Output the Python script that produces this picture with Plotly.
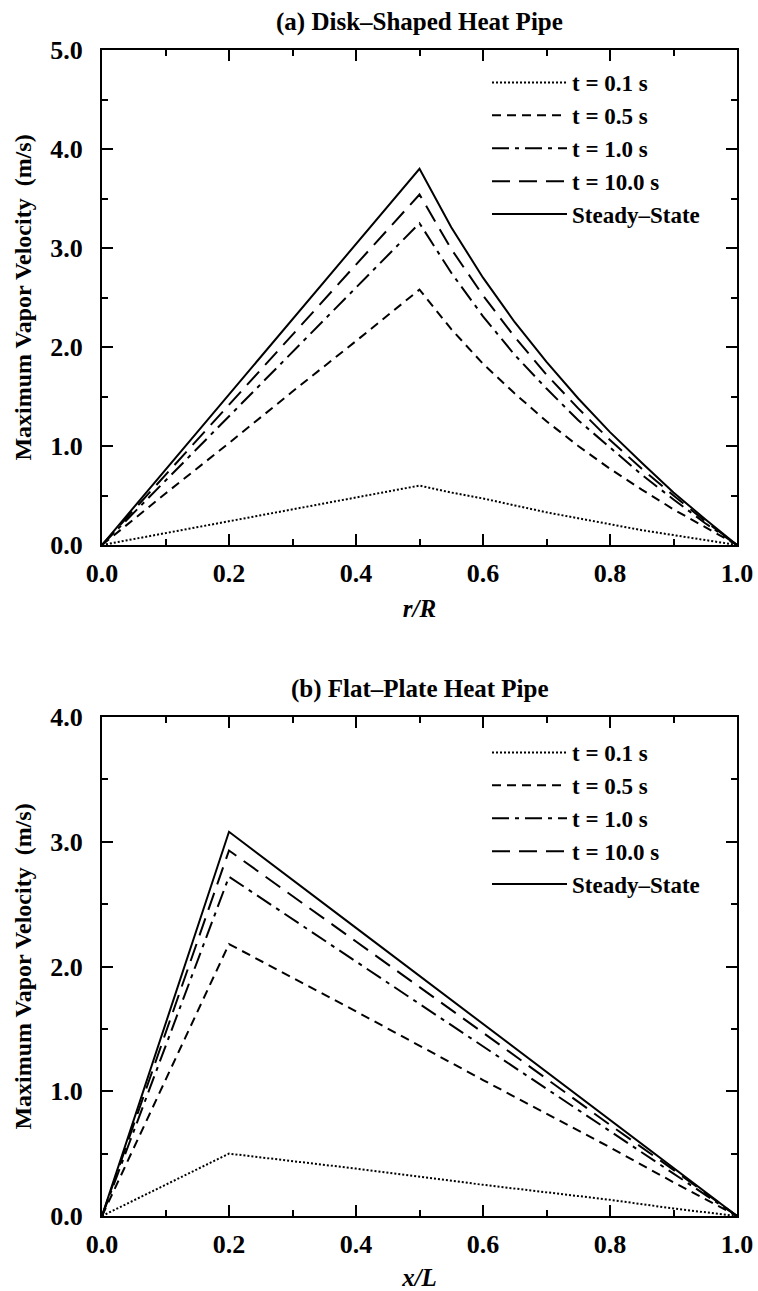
import plotly.graph_objects as go

# ---------------- data ----------------
series_names = ["t = 0.1 s", "t = 0.5 s", "t = 1.0 s", "t = 10.0 s", "Steady\u2013State"]

# (a) Disk-shaped heat pipe, x = r/R
r_R = [0.0, 0.1, 0.2, 0.3, 0.4, 0.5, 0.55, 0.6, 0.65, 0.7, 0.75, 0.8, 0.85, 0.9, 0.95, 1.0]
disk_t01 = [0.0, 0.12, 0.24, 0.36, 0.48, 0.60, 0.53, 0.47, 0.40, 0.33, 0.27, 0.21, 0.15, 0.10, 0.05, 0.0]
disk_t05 = [0.0, 0.52, 1.03, 1.55, 2.06, 2.58, 2.18, 1.83, 1.53, 1.25, 1.00, 0.77, 0.56, 0.36, 0.18, 0.0]
disk_t1 = [0.0, 0.65, 1.30, 1.95, 2.60, 3.25, 2.75, 2.31, 1.92, 1.58, 1.26, 0.98, 0.71, 0.46, 0.22, 0.0]
disk_t10 = [0.0, 0.71, 1.42, 2.12, 2.83, 3.54, 2.99, 2.52, 2.10, 1.72, 1.38, 1.06, 0.77, 0.50, 0.24, 0.0]
disk_ss = [0.0, 0.76, 1.52, 2.28, 3.04, 3.80, 3.21, 2.70, 2.25, 1.85, 1.48, 1.14, 0.83, 0.53, 0.26, 0.0]

# (b) Flat-plate heat pipe, x = x/L
x_L = [0.0, 0.1, 0.2, 0.4, 0.6, 0.8, 0.9, 1.0]
flat_t01 = [0.0, 0.25, 0.50, 0.38, 0.25, 0.13, 0.06, 0.0]
flat_t05 = [0.0, 1.09, 2.18, 1.64, 1.09, 0.55, 0.27, 0.0]
flat_t1 = [0.0, 1.36, 2.72, 2.04, 1.36, 0.68, 0.34, 0.0]
flat_t10 = [0.0, 1.47, 2.93, 2.20, 1.47, 0.73, 0.37, 0.0]
flat_ss = [0.0, 1.54, 3.08, 2.31, 1.54, 0.77, 0.39, 0.0]

x_ticks = [0.0, 0.2, 0.4, 0.6, 0.8, 1.0]
x_ticklabels = ["0.0", "0.2", "0.4", "0.6", "0.8", "1.0"]
ya_ticks = [0, 1, 2, 3, 4, 5]
ya_ticklabels = ["0.0", "1.0", "2.0", "3.0", "4.0", "5.0"]
yb_ticks = [0, 1, 2, 3, 4]
yb_ticklabels = ["0.0", "1.0", "2.0", "3.0", "4.0"]

# ---------------- style ----------------
FONT = "Liberation Serif"
W, H = 758, 1291
ML, MR, MT, MB = 102, 21, 50, 75
PH = H - MT - MB
PW = W - ML - MR
dashes = ["2px,2px", "9px,6px", "17px,6px,4px,6px", "18px,9px", "solid"]


def py(p):
    """pixel y (from top of figure) -> paper y"""
    return (H - MB - p) / PH


def px(p):
    """pixel x (from left of figure) -> paper x"""
    return (p - ML) / PW


fig = go.Figure()

disk = [disk_t01, disk_t05, disk_t1, disk_t10, disk_ss]
flat = [flat_t01, flat_t05, flat_t1, flat_t10, flat_ss]
for name, ys, d in zip(series_names, disk, dashes):
    fig.add_trace(go.Scatter(x=r_R, y=ys, mode="lines", name=name,
                             line=dict(color="black", width=2, dash=d),
                             xaxis="x", yaxis="y", legend="legend"))
for name, ys, d in zip(series_names, flat, dashes):
    fig.add_trace(go.Scatter(x=x_L, y=ys, mode="lines", name=name,
                             line=dict(color="black", width=2, dash=d),
                             xaxis="x2", yaxis="y2", legend="legend2"))

tickfont = dict(family=FONT, size=26, color="black", weight="bold")
axis_common = dict(
    showline=True, linecolor="black", linewidth=2, mirror="ticks",
    ticks="inside", ticklen=11, tickwidth=1.5, tickcolor="black",
    showgrid=False, zeroline=False, automargin=False,
    tickfont=tickfont,
)
minor_x = dict(dtick=0.1, ticklen=6, ticks="inside", tickcolor="black", tickwidth=1.5)
minor_y = dict(dtick=0.5, ticklen=6, ticks="inside", tickcolor="black", tickwidth=1.5)
ytitle_font = dict(family=FONT, size=24, color="black", weight="bold")
xtitle_font = dict(family=FONT, size=25, color="black", weight="bold", style="italic")
leg_font = dict(family=FONT, size=23, color="black", weight="bold")
title_font = dict(family=FONT, size=25, color="black", weight="bold")

fig.update_layout(
    width=W, height=H, template="none",
    paper_bgcolor="white", plot_bgcolor="white",
    margin=dict(l=ML, r=MR, t=MT, b=MB),
    font=dict(family=FONT, color="black"),
    xaxis=dict(domain=[0, 1], range=[0, 1], anchor="y",
               tickvals=x_ticks, ticktext=x_ticklabels, ticklabelstandoff=4,
               minor=minor_x,
               title=dict(text="r/R", font=xtitle_font, standoff=12),
               **axis_common),
    yaxis=dict(domain=[py(545), py(50)], range=[0, 5], anchor="x",
               tickvals=ya_ticks, ticktext=ya_ticklabels, ticklabelstandoff=12,
               minor=minor_y,
               title=dict(text="Maximum Vapor Velocity  (m/s)", font=ytitle_font, standoff=12),
               **axis_common),
    xaxis2=dict(domain=[0, 1], range=[0, 1], anchor="y2",
                tickvals=x_ticks, ticktext=x_ticklabels, ticklabelstandoff=4,
                minor=minor_x,
                title=dict(text="x/L", font=xtitle_font, standoff=10),
                **axis_common),
    yaxis2=dict(domain=[py(1216), py(717)], range=[0, 4], anchor="x2",
                tickvals=yb_ticks, ticktext=yb_ticklabels, ticklabelstandoff=12,
                minor=minor_y,
                title=dict(text="Maximum Vapor Velocity  (m/s)", font=ytitle_font, standoff=12),
                **axis_common),
    legend=dict(x=px(487), y=py(61), xanchor="left", yanchor="top",
                bgcolor="rgba(0,0,0,0)", itemwidth=75, tracegroupgap=0,
                font=leg_font, itemclick=False),
    legend2=dict(x=px(487), y=py(731), xanchor="left", yanchor="top",
                 bgcolor="rgba(0,0,0,0)", itemwidth=75, tracegroupgap=0,
                 font=leg_font, itemclick=False),
    showlegend=True,
    annotations=[
        dict(text="(a) Disk\u2013Shaped Heat Pipe", x=0.5, y=py(22), xref="paper", yref="paper",
             showarrow=False, font=title_font, xanchor="center", yanchor="middle"),
        dict(text="(b) Flat\u2013Plate Heat Pipe", x=0.5, y=py(689), xref="paper", yref="paper",
             showarrow=False, font=title_font, xanchor="center", yanchor="middle"),
    ],
)

fig.write_html("out.html", config={"displayModeBar": False},
               post_script="document.body.style.margin='0px';")
